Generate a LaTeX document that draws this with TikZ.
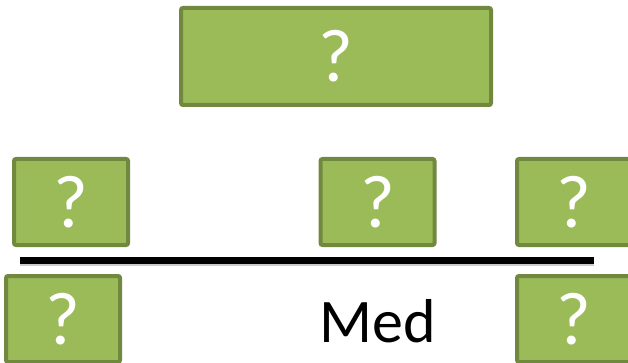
\documentclass[tikz,border=0pt]{standalone}
\usepackage{fontspec}
\setmainfont{Carlito}
\definecolor{boxfill}{HTML}{9BBB59}
\definecolor{boxedge}{HTML}{71893F}
\tikzset{
  qbox/.style={draw=boxedge, fill=boxfill, line width=4pt, rounded corners=2pt,
    text=white, inner sep=0pt, font=\fontsize{75}{80}\selectfont},
  smallq/.style={qbox, minimum width=114pt, minimum height=86pt},
}
\begin{document}
\begin{tikzpicture}[x=1pt, y=-1pt]
        \useasboundingbox (0,0) rectangle (628,363);
        \clip (0,0) rectangle (628,363);

        % the big box on top
        \node[qbox, minimum width=310pt, minimum height=97pt] (top) at (336,56.5) {?};

        % the row above the line
        \node[smallq] (upleft) at (71,202) {?};
        \node[smallq] (upmid) at (377.5,202) {?};
        \node[smallq] (upright) at (574,202) {?};

        % the line with its soft shadow
        \coordinate (lstart) at (20,260);
        \coordinate (lend) at (594,260);
        \draw[line width=7pt, black!20, transform canvas={yshift=-2pt}] (lstart) -- (lend);
        \draw[line width=7pt] (lstart) -- (lend);

        % the row below the line
        \node[smallq] (lowleft) at (63,319) {?};
        \node[smallq] (lowright) at (574,319) {?};
        \node[anchor=base west, inner sep=0pt, font=\fontsize{62}{70}\selectfont] (med) at (319,342) {Med};

    \end{tikzpicture}
\end{document}
